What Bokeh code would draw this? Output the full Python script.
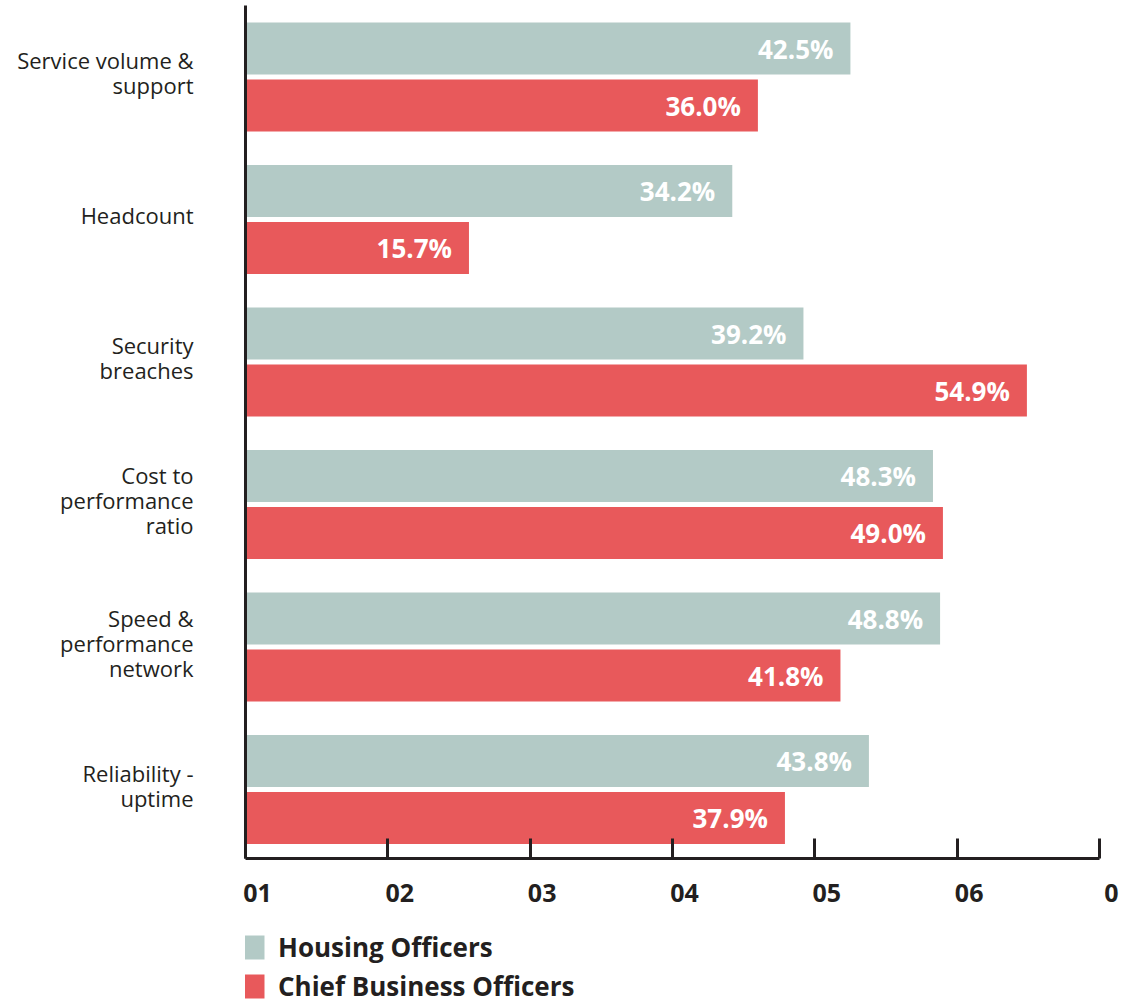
from bokeh.plotting import figure
from bokeh.layouts import column
from bokeh.models import (FixedTicker, Range1d, Legend, LegendItem, ColumnDataSource,
                          LinearAxis)
from bokeh.embed import file_html
from bokeh.resources import INLINE
from bokeh.core.properties import value

categories = ["Service volume &\nsupport", "Headcount", "Security\nbreaches",
              "Cost to\nperformance\nratio", "Speed &\nperformance\nnetwork",
              "Reliability -\nuptime"]
housing = [42.5, 34.2, 39.2, 48.3, 48.8, 43.8]
cbo = [36.0, 15.7, 54.9, 49.0, 41.8, 37.9]
x_ticks = [0, 10, 20, 30, 40, 50, 60]
x_tick_labels = ["01", "02", "03", "04", "05", "06", "0"]
series_names = ["Housing Officers", "Chief Business Officers"]

TEAL = "#b3cac6"
RED = "#e8595b"
DARK = "#231f20"
FONT = "Open Sans"

AXIS_W = 854            # pixels spanned by 0..60
EXTRA_W = 20            # empty room right of the axis end for the last label
X_MAX = 60
PX = X_MAX / AXIS_W     # data units per pixel
X_END = X_MAX + EXTRA_W * PX
LABEL_SHIFT = 12 * PX   # tick labels sit a little right of their ticks

pos = list(range(len(categories)))
label_pos = [i - 0.03 for i in pos]
src_h = ColumnDataSource(dict(y=[p_ - 0.2 for p_ in pos], x=housing,
                              t=[f"{v:.1f}%" for v in housing]))
src_c = ColumnDataSource(dict(y=[p_ + 0.2 for p_ in pos], x=cbo,
                              t=[f"{v:.1f}%" for v in cbo]))

p = figure(frame_width=AXIS_W + EXTRA_W, frame_height=853, output_backend="svg",
           toolbar_location=None,
           x_range=Range1d(0, X_END), y_range=Range1d(5.484, -0.502),
           min_border_left=245, min_border_right=3, min_border_top=5,
           min_border_bottom=72)
p.outline_line_color = None
p.grid.grid_line_color = None
p.background_fill_color = "white"
p.border_fill_color = "white"
p.extra_x_ranges = {"lab": Range1d(-LABEL_SHIFT, X_END - LABEL_SHIFT)}

rh = p.hbar(y="y", right="x", left=0, height=0.365, source=src_h,
            fill_color=TEAL, line_color=None)
rc = p.hbar(y="y", right="x", left=0, height=0.365, source=src_c,
            fill_color=RED, line_color=None)
for s in (src_h, src_c):
    p.text(x="x", y="y", text="t", source=s, x_offset=-17,
           text_align="right", text_baseline="middle",
           text_font=value(FONT), text_font_style="bold",
           text_font_size="26px", text_color="white")

# x axis: line + ticks
xa = p.xaxis[0]
xa.ticker = FixedTicker(ticks=x_ticks)
xa.bounds = (x_ticks[0], x_ticks[-1])
xa.major_label_overrides = {t: "" for t in x_ticks}
xa.axis_line_color = DARK
xa.axis_line_width = 3
xa.major_tick_line_color = DARK
xa.major_tick_line_width = 3
xa.major_tick_in = 20
xa.major_tick_out = 0
xa.minor_tick_line_color = None
xa.major_label_standoff = 0

# x axis: labels only (offset slightly to the right of the ticks)
xl = LinearAxis(x_range_name="lab", ticker=FixedTicker(ticks=x_ticks),
                major_label_overrides={t: l for t, l in zip(x_ticks, x_tick_labels)},
                axis_line_color=None, major_tick_line_color=None,
                minor_tick_line_color=None, major_tick_in=0, major_tick_out=0,
                major_label_standoff=25, major_label_text_font=FONT,
                major_label_text_font_style="bold",
                major_label_text_font_size="25px",
                major_label_text_color=DARK)
p.add_layout(xl, "below")

# y axis
ya = p.yaxis[0]
ya.ticker = FixedTicker(ticks=label_pos)
ya.major_label_overrides = {t: c for t, c in zip(label_pos, categories)}
ya.axis_line_color = DARK
ya.axis_line_width = 3
ya.major_tick_line_color = None
ya.major_tick_in = 0
ya.major_tick_out = 0
ya.minor_tick_line_color = None
ya.major_label_standoff = 52
ya.major_label_text_font = FONT
ya.major_label_text_font_size = "22px"
ya.major_label_text_color = DARK
ya.major_label_text_line_height = 0.83

# legend in its own strip below the chart
lf = figure(width=1122, height=69, output_backend="svg", toolbar_location=None,
            x_range=Range1d(0, 1), y_range=Range1d(0, 1),
            x_axis_location=None, y_axis_location=None,
            min_border_left=237, min_border_right=0, min_border_top=0,
            min_border_bottom=0)
lf.grid.grid_line_color = None
lf.outline_line_color = None
lh = lf.hbar(y=[-50], right=[1], left=0, height=1, fill_color=TEAL, line_color=None)
lc = lf.hbar(y=[-50], right=[1], left=0, height=1, fill_color=RED, line_color=None)
legend = Legend(items=[LegendItem(label=series_names[0], renderers=[lh]),
                       LegendItem(label=series_names[1], renderers=[lc])],
                orientation="vertical", location=(-8, -5),
                glyph_width=30, glyph_height=30, label_height=30,
                spacing=3, padding=0, margin=0, label_standoff=11,
                label_text_font=FONT, label_text_font_style="bold",
                label_text_font_size="26px", label_text_color=DARK,
                border_line_color=None, background_fill_alpha=0)
lf.add_layout(legend)

open("out.html", "w").write(file_html(column(p, lf, spacing=0), INLINE))
